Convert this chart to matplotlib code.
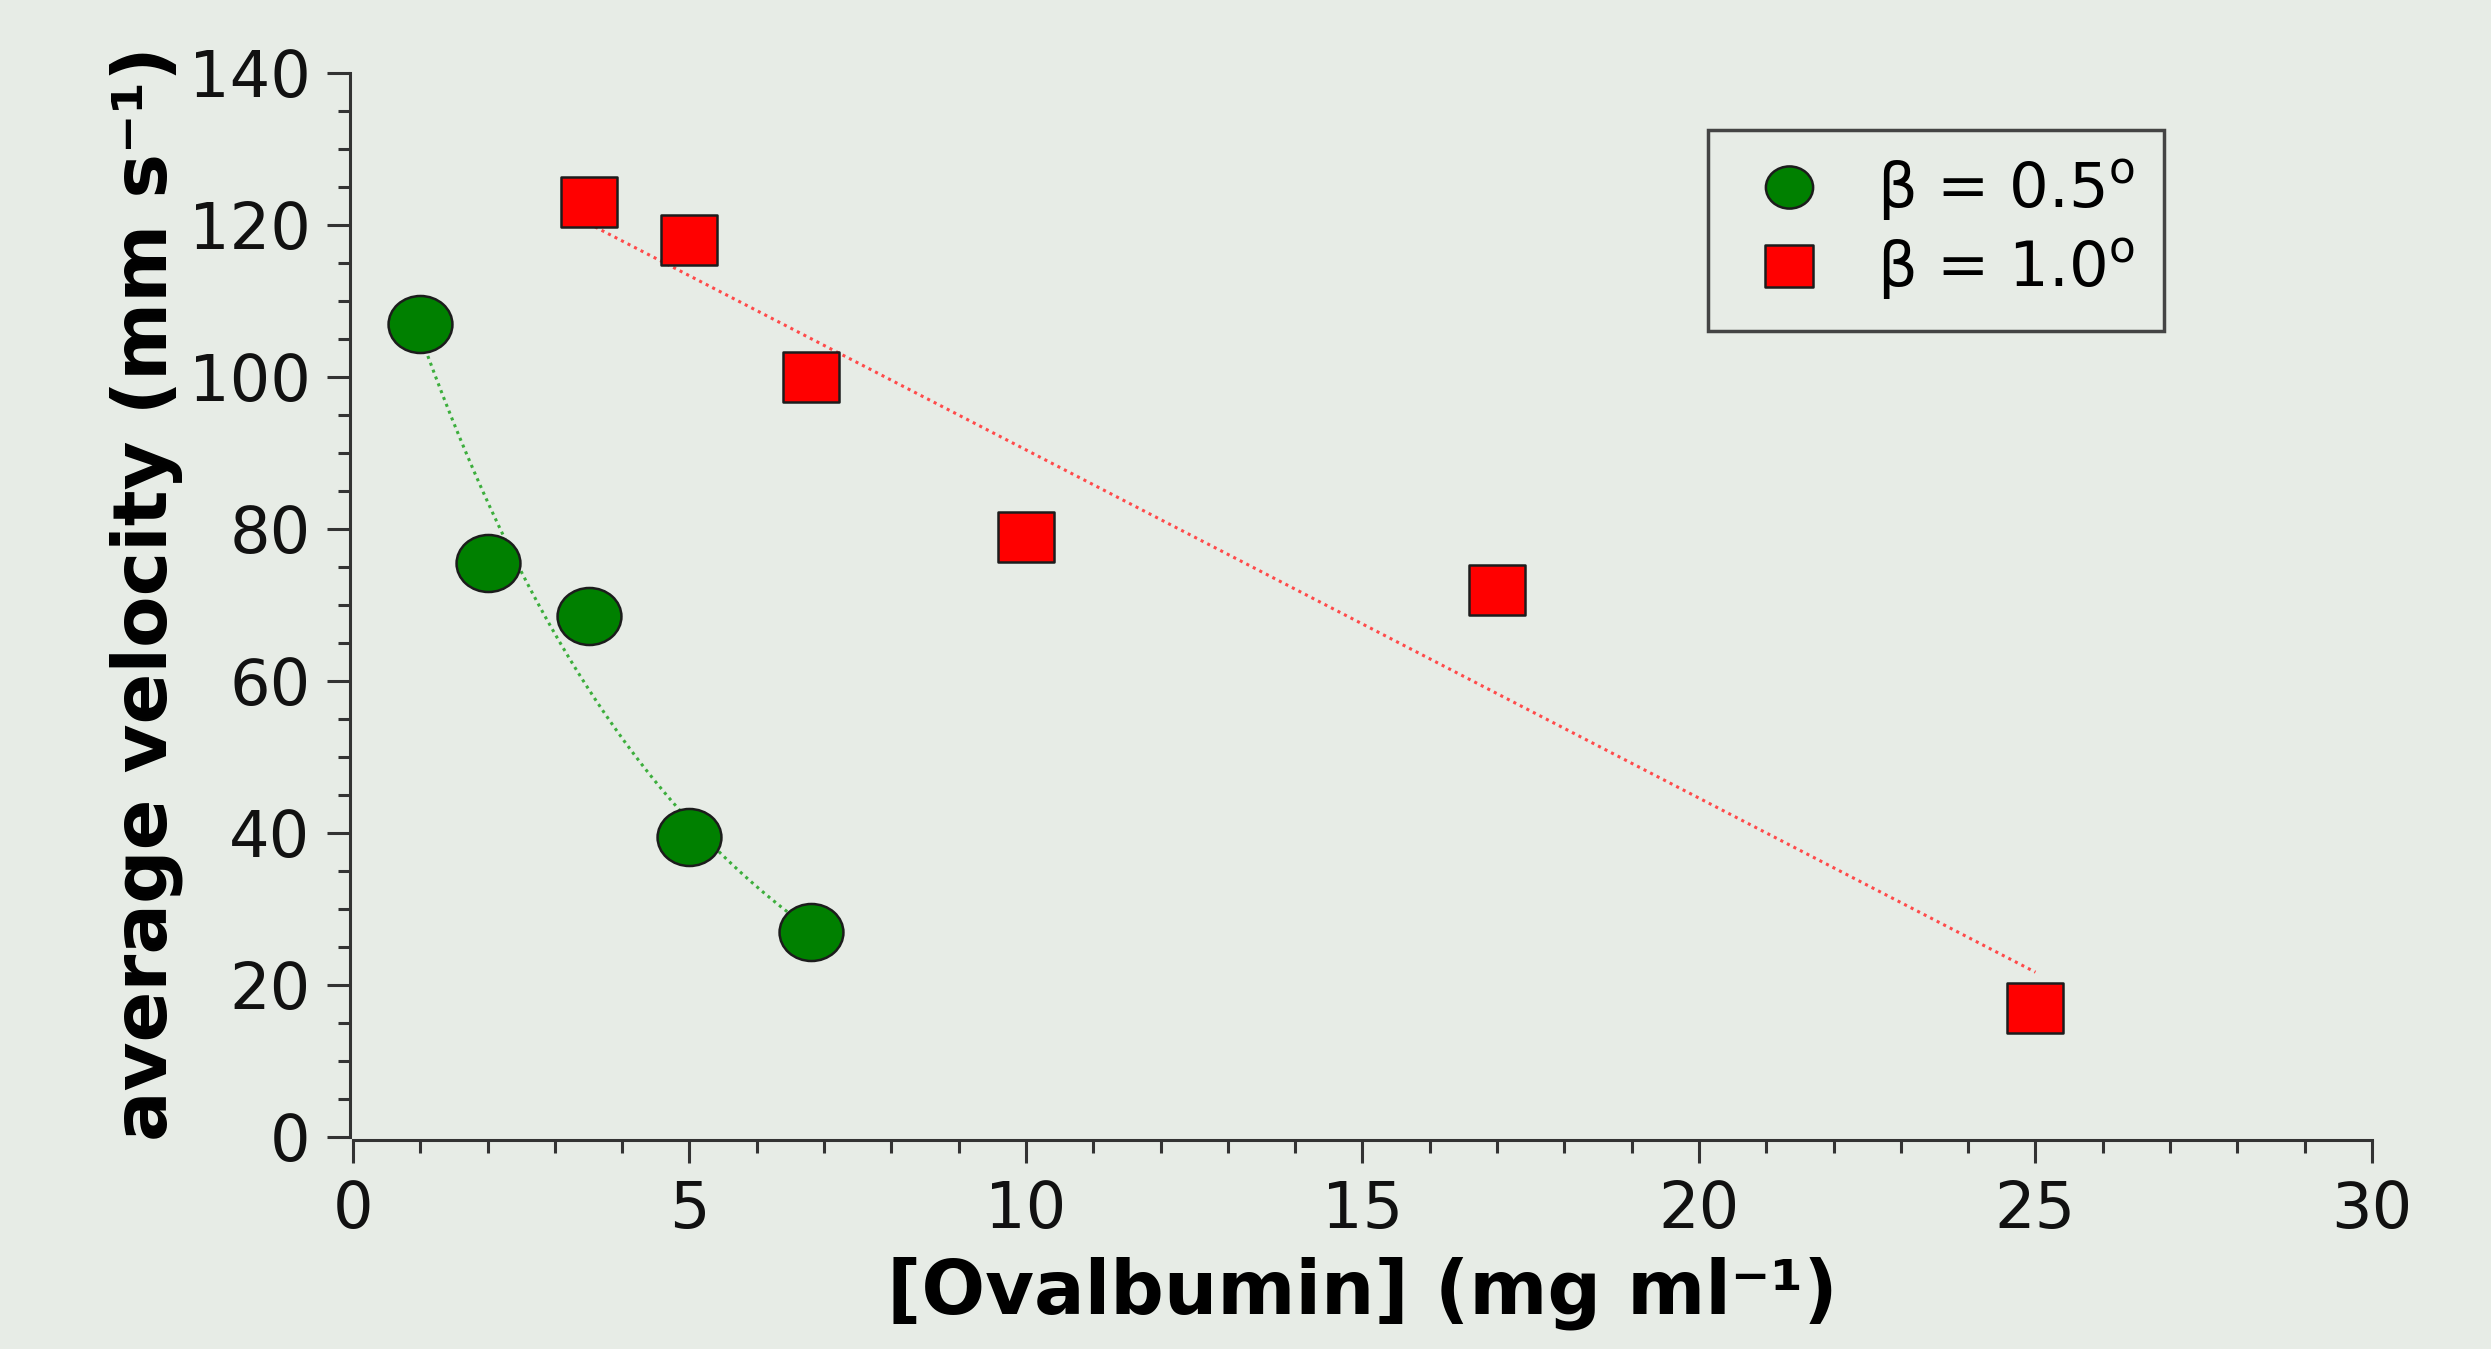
import numpy as np
import matplotlib
matplotlib.use("Agg")
import matplotlib.pyplot as plt
from matplotlib.path import Path
from matplotlib.lines import Line2D
from matplotlib.ticker import MultipleLocator

# ---- data ----
conc_05 = [1.0, 2.0, 3.5, 5.0, 6.8]          # mg/ml, beta = 0.5 deg
vel_05 = [107.0, 75.5, 68.5, 39.5, 27.0]     # mm/s
conc_10 = [3.5, 5.0, 6.8, 10.0, 17.0, 25.0]  # mg/ml, beta = 1.0 deg
vel_10 = [123.0, 118.0, 100.0, 79.0, 72.0, 17.0]

label_05 = r'β = 0.5$^{\mathregular{o}}$'
label_10 = r'β = 1.0$^{\mathregular{o}}$'
xlabel = '[Ovalbumin] (mg ml⁻¹)'
ylabel = 'average velocity (mm s⁻¹)'
xticks = [0, 5, 10, 15, 20, 25, 30]
yticks = [0, 20, 40, 60, 80, 100, 120, 140]

BG = '#e7ece6'
plt.rcParams['font.family'] = ['DejaVu Sans']

fig = plt.figure(figsize=(24.91, 13.49), dpi=100, facecolor=BG)
ax = fig.add_axes([0.1417, 0.1572, 0.9522 - 0.1417, 0.9459 - 0.1572])
ax.set_facecolor(BG)

# slightly wide markers (reference is horizontally stretched)
sx = 1.12
circ = Path.unit_circle()
ell_marker = Path(circ.vertices * np.array([sx, 1.0]), circ.codes)
sq_marker = Path([(-sx, -1), (sx, -1), (sx, 1), (-sx, 1), (-sx, -1)],
                 [Path.MOVETO, Path.LINETO, Path.LINETO, Path.LINETO, Path.CLOSEPOLY])

# fits: exponential for 0.5 deg, linear for 1.0 deg
x05 = np.array(conc_05); y05 = np.array(vel_05)
b, lna = np.polyfit(x05, np.log(y05), 1)
xf05 = np.linspace(x05.min(), x05.max(), 200)
ax.plot(xf05, np.exp(lna) * np.exp(b * xf05), color='#3cae3c', lw=2.2,
        ls=(0, (1, 1.4)), zorder=2)

x10 = np.array(conc_10); y10 = np.array(vel_10)
m, c = np.polyfit(x10, y10, 1)
xf10 = np.linspace(x10.min(), x10.max(), 200)
ax.plot(xf10, m * xf10 + c, color='#ff4a4a', lw=2.2, ls=(0, (1, 1.4)), zorder=2)

ax.plot(conc_05, vel_05, ls='none', marker=ell_marker, ms=46,
        mfc='#008000', mec='#1c1c1c', mew=1.8, zorder=3)
ax.plot(conc_10, vel_10, ls='none', marker=sq_marker, ms=41,
        mfc='#ff0000', mec='#1c1c1c', mew=1.8, zorder=3)

ax.set_xlim(0, 30)
ax.set_ylim(0, 140)
ax.set_xticks(xticks)
ax.set_yticks(yticks)
ax.xaxis.set_minor_locator(MultipleLocator(1))
ax.yaxis.set_minor_locator(MultipleLocator(5))

for s in ['top', 'right']:
    ax.spines[s].set_visible(False)
for s in ['left', 'bottom']:
    ax.spines[s].set_linewidth(2.2)
    ax.spines[s].set_color('#333333')
    ax.spines[s].set_position(('outward', 2))

ax.tick_params(axis='both', which='major', direction='out', length=16.5,
               width=2.2, color='#333333', labelsize=46, labelcolor='#111111')
ax.tick_params(axis='both', which='minor', direction='out', length=9,
               width=2.2, color='#333333')
ax.tick_params(axis='x', which='major', pad=12)
ax.tick_params(axis='y', which='major', pad=12)

ax.set_xlabel(xlabel, fontsize=54, fontweight='bold', color='black')
ax.set_ylabel(ylabel, fontsize=54, fontweight='bold', color='black')
ax.xaxis.set_label_coords(0.5, -0.112)
ax.yaxis.set_label_coords(-0.084, 0.511)

handles = [
    Line2D([], [], ls='none', marker=ell_marker, ms=34, mfc='#008000',
           mec='#1c1c1c', mew=1.8, label=label_05),
    Line2D([], [], ls='none', marker=sq_marker, ms=34, mfc='#ff0000',
           mec='#1c1c1c', mew=1.8, label=label_10),
]
leg = fig.legend(handles=handles, loc='upper left',
                 bbox_to_anchor=(1708 / 2491, 1 - 130 / 1349),
                 bbox_transform=fig.transFigure, fontsize=45, frameon=True,
                 fancybox=False, borderpad=0.45, handlelength=1.7,
                 handletextpad=0.56, labelspacing=0.22, borderaxespad=0)
leg.get_frame().set_facecolor(BG)
leg.get_frame().set_edgecolor('#444444')
leg.get_frame().set_linewidth(2.5)
leg.get_frame().set_alpha(1)

fig.savefig('out.png', dpi=100, facecolor=BG)
